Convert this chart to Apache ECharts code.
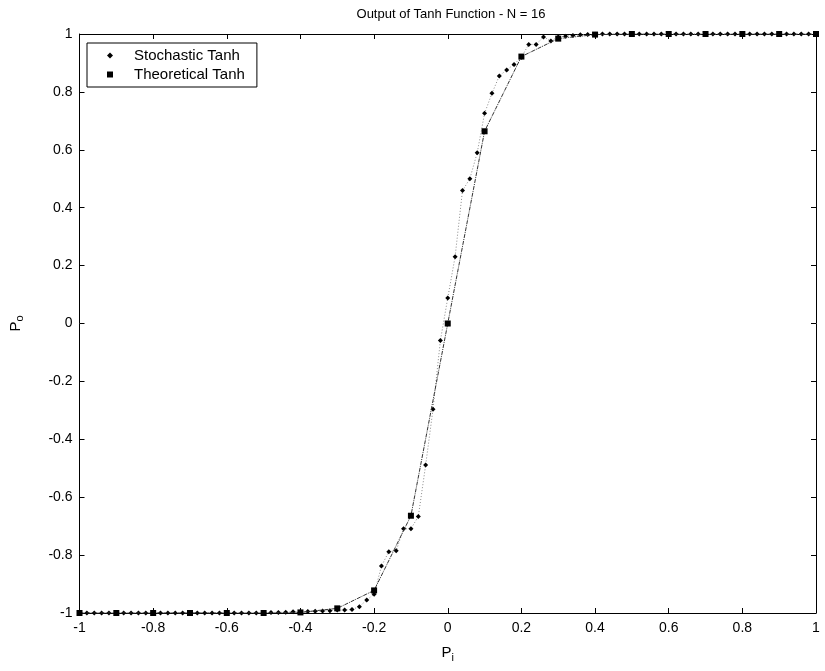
<!DOCTYPE html>
<html>
<head>
<meta charset="utf-8">
<script src="https://cdn.jsdelivr.net/npm/echarts@6/dist/echarts.min.js"></script>
<style>html,body{margin:0;padding:0;background:#fff;}#c{width:825px;height:671px;}</style>
</head>
<body>
<div id="c"></div>
<script>
var chartTitle = 'Output of Tanh Function - N = 16';
var xTicks = [-1, -0.8, -0.6, -0.4, -0.2, 0, 0.2, 0.4, 0.6, 0.8, 1];
var yTicks = [-1, -0.8, -0.6, -0.4, -0.2, 0, 0.2, 0.4, 0.6, 0.8, 1];

var piTheo = [-1, -0.9, -0.8, -0.7, -0.6, -0.5, -0.4, -0.3, -0.2, -0.1, 0, 0.1, 0.2, 0.3, 0.4, 0.5, 0.6, 0.7, 0.8, 0.9, 1];
var poTheo = [-1, -1, -1, -1, -1, -1, -0.998, -0.984, -0.922, -0.664, 0, 0.664, 0.922, 0.984, 0.998, 1, 1, 1, 1, 1, 1];

var piStoch = [-1, -0.98, -0.96, -0.94, -0.92, -0.9, -0.88, -0.86, -0.84, -0.82, -0.8, -0.78, -0.76, -0.74, -0.72, -0.7, -0.68, -0.66, -0.64, -0.62, -0.6, -0.58, -0.56, -0.54, -0.52,
  -0.5, -0.48, -0.46, -0.44, -0.42, -0.4, -0.38, -0.36, -0.34, -0.32, -0.3, -0.28, -0.26, -0.24, -0.22, -0.2, -0.18, -0.16, -0.14, -0.12, -0.1, -0.08, -0.06, -0.04, -0.02,
  0, 0.02, 0.04, 0.06, 0.08, 0.1, 0.12, 0.14, 0.16, 0.18, 0.2, 0.22, 0.24, 0.26, 0.28, 0.3, 0.32, 0.34, 0.36, 0.38,
  0.4, 0.42, 0.44, 0.46, 0.48, 0.5, 0.52, 0.54, 0.56, 0.58, 0.6, 0.62, 0.64, 0.66, 0.68, 0.7, 0.72, 0.74, 0.76, 0.78, 0.8, 0.82, 0.84, 0.86, 0.88, 0.9, 0.92, 0.94, 0.96, 0.98, 1];
var poStoch = [-1, -1, -1, -1, -1, -1, -1, -1, -1, -1, -1, -1, -1, -1, -1, -1, -1, -1, -1, -1, -1, -1, -1, -1, -1,
  -0.999, -0.998, -0.998, -0.997, -0.996, -0.996, -0.995, -0.994, -0.993, -0.992, -0.99, -0.99, -0.988, -0.978, -0.955, -0.935, -0.838, -0.788, -0.785, -0.709, -0.709, -0.667, -0.489, -0.296, -0.059,
  0.088, 0.231, 0.459, 0.5, 0.59, 0.726, 0.795, 0.855, 0.876, 0.895, 0.92, 0.964, 0.964, 0.99, 0.976, 0.99, 0.992, 0.995, 0.997, 0.998,
  0.999, 1, 1, 1, 1, 1, 1, 1, 1, 1, 1, 1, 1, 1, 1, 1, 1, 1, 1, 1, 1, 1, 1, 1, 1, 1, 1, 1, 1, 1, 1];

function pairs(xs, ys) { return xs.map(function (x, i) { return [x, ys[i]]; }); }
function fmt(v) { return Math.abs(v) < 1e-9 ? '0' : String(Math.round(v * 10) / 10); }

var font = 'Liberation Sans, Arial, sans-serif';
var chart = echarts.init(document.getElementById('c'));
var axisBase = {
  type: 'value', min: -1, max: 1, interval: 0.2,
  axisLine: { show: true, onZero: false, lineStyle: { color: '#000', width: 1 } },
  axisTick: { show: true, inside: true, length: 5, lineStyle: { color: '#000' } },
  splitLine: { show: false }
};
chart.setOption({
  backgroundColor: '#fff',
  animation: false,
  title: { text: chartTitle, left: 446, top: 3, textAlign: 'center',
    textStyle: { fontFamily: font, fontSize: 13, fontWeight: 'normal', color: '#000' } },
  grid: { left: 77, right: 9, top: 34, bottom: 58 },
  legend: {
    left: 87, top: 43, orient: 'vertical',
    backgroundColor: '#fff', borderColor: '#000', borderWidth: 1, borderRadius: 0,
    padding: [4, 12, 4, 20], itemGap: 2, itemWidth: 6, itemHeight: 6,
    textStyle: { fontFamily: font, fontSize: 15, color: '#000', padding: [0, 0, 0, 16], lineHeight: 17 },
    data: [{ name: 'Stochastic Tanh', icon: 'diamond' }, { name: 'Theoretical Tanh', icon: 'rect' }]
  },
  xAxis: [
    Object.assign({}, axisBase, {
      position: 'bottom',
      name: '{a|P}{b|i}', nameLocation: 'middle', nameGap: 30,
      nameTextStyle: { rich: {
        a: { fontFamily: font, fontSize: 15, color: '#000' },
        b: { fontFamily: font, fontSize: 11, color: '#000', verticalAlign: 'bottom', padding: [9, 0, 0, 0] } } },
      axisLabel: { fontFamily: font, fontSize: 14, color: '#000', margin: 8, formatter: fmt }
    }),
    Object.assign({}, axisBase, { position: 'top', axisLabel: { show: false } })
  ],
  yAxis: [
    Object.assign({}, axisBase, {
      position: 'left',
      name: '{a|P}{b|o}', nameLocation: 'middle', nameGap: 54, nameRotate: 90,
      nameTextStyle: { rich: {
        a: { fontFamily: font, fontSize: 15, color: '#000' },
        b: { fontFamily: font, fontSize: 11, color: '#000', padding: [9, 0, 0, 0] } } },
      axisLabel: { fontFamily: font, fontSize: 14, color: '#000', margin: 7, formatter: fmt }
    }),
    Object.assign({}, axisBase, { position: 'right', axisLabel: { show: false } })
  ],
  series: [
    {
      name: 'Stochastic Tanh', type: 'line', xAxisIndex: 0, yAxisIndex: 0,
      data: pairs(piStoch, poStoch),
      symbol: 'diamond', symbolSize: 5, showAllSymbol: true,
      itemStyle: { color: '#000' },
      lineStyle: { color: '#888', width: 1, type: [1, 2] },
      z: 2
    },
    {
      name: 'Theoretical Tanh', type: 'line', xAxisIndex: 0, yAxisIndex: 0,
      data: pairs(piTheo, poTheo),
      symbol: 'rect', symbolSize: 6, showAllSymbol: true,
      itemStyle: { color: '#000' },
      lineStyle: { color: '#333', width: 1, type: [4, 1, 1, 1] },
      z: 3
    }
  ]
});
</script>
</body>
</html>
